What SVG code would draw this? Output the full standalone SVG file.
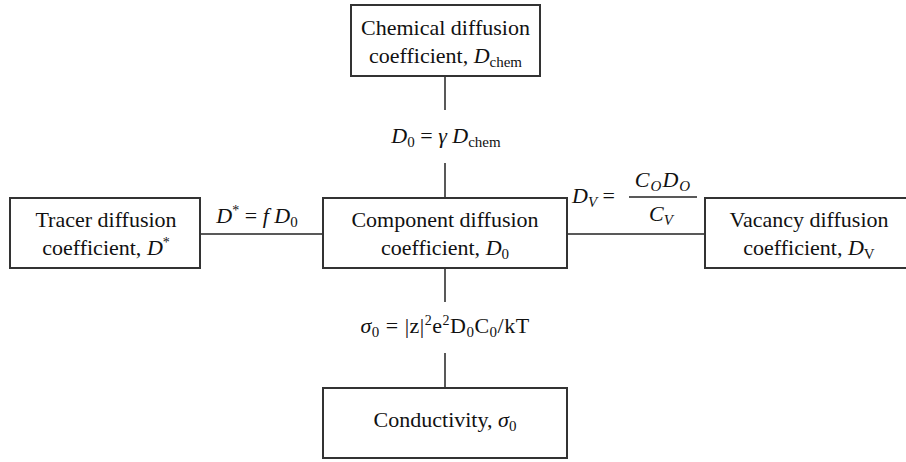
<svg xmlns="http://www.w3.org/2000/svg" width="906" height="462" viewBox="0 0 906 462" font-family="'Liberation Serif', 'Times New Roman', serif">
<style>
.box{fill:#fff;stroke:#333;stroke-width:2}
.ln{stroke:#222;stroke-width:1.5;fill:none}
text{font-family:'Liberation Serif','Times New Roman',serif;font-size:22px;fill:#111;text-anchor:middle}
.st{text-anchor:start}
.i{font-style:italic}
.sub{font-size:15px}
.sup{font-size:14px}
</style>
<rect width="906" height="462" fill="#fff"/>
<g id="connectors">
<line class="ln" x1="445" y1="76" x2="445" y2="110"/>
<line class="ln" x1="445" y1="163" x2="445" y2="198"/>
<line class="ln" x1="200" y1="234" x2="323" y2="234"/>
<line class="ln" x1="567" y1="234" x2="705" y2="234"/>
<line class="ln" x1="445" y1="268" x2="445" y2="302"/>
<line class="ln" x1="445" y1="353" x2="445" y2="388"/>
<line class="ln" x1="629" y1="197" x2="697" y2="197"/>
</g>
<g id="edge-labels">
<text x="446" y="143"><tspan class="i">D</tspan><tspan class="sub" dy="4">0</tspan><tspan dy="-4"> = </tspan><tspan class="i">γ D</tspan><tspan class="sub" dy="4">chem</tspan></text>
<text x="257" y="223"><tspan class="i">D</tspan><tspan class="sup" dy="-8">*</tspan><tspan dy="8"> = </tspan><tspan class="i">f D</tspan><tspan class="sub" dy="4">0</tspan></text>
<text class="st" x="572" y="203"><tspan class="i">D</tspan><tspan class="sub i" dy="4">V</tspan><tspan dy="-4"> =</tspan></text>
<text x="663" y="187" letter-spacing="1"><tspan class="i">C</tspan><tspan class="sub i" dy="4">O</tspan><tspan class="i" dy="-4">D</tspan><tspan class="sub i" dy="4">O</tspan></text>
<text x="661" y="221"><tspan class="i">C</tspan><tspan class="sub i" dy="4">V</tspan></text>
<text x="445" y="333" letter-spacing="0.5"><tspan class="i">σ</tspan><tspan class="sub" dy="4">0</tspan><tspan dy="-4"> = |z|</tspan><tspan class="sup" dy="-8">2</tspan><tspan dy="8">e</tspan><tspan class="sup" dy="-8">2</tspan><tspan dy="8">D</tspan><tspan class="sub" dy="4">0</tspan><tspan dy="-4">C</tspan><tspan class="sub" dy="4">0</tspan><tspan dy="-4">/kT</tspan></text>
</g>
<g id="node-chem">
<rect class="box" x="351" y="5" width="189" height="71"/>
<text x="445.5" y="35">Chemical diffusion</text>
<text x="445.5" y="63">coefficient, <tspan class="i">D</tspan><tspan class="sub" dy="4">chem</tspan></text>
</g>
<g id="node-tracer">
<rect class="box" x="10" y="198" width="190" height="70"/>
<text x="106" y="227">Tracer diffusion</text>
<text x="106" y="255">coefficient, <tspan class="i">D</tspan><tspan class="sup" dy="-8">*</tspan></text>
</g>
<g id="node-component">
<rect class="box" x="323" y="198" width="244" height="70"/>
<text x="445" y="227">Component diffusion</text>
<text x="445" y="255">coefficient, <tspan class="i">D</tspan><tspan class="sub" dy="4">0</tspan></text>
</g>
<g id="node-vacancy">
<rect class="box" x="705" y="198" width="210" height="70"/>
<text x="809" y="227">Vacancy diffusion</text>
<text x="809" y="255">coefficient, <tspan class="i">D</tspan><tspan class="sub" dy="4">V</tspan></text>
</g>
<g id="node-conductivity">
<rect class="box" x="323" y="388" width="244" height="70"/>
<text x="445" y="427">Conductivity, <tspan class="i">σ</tspan><tspan class="sub" dy="4">0</tspan></text>
</g>
</svg>
